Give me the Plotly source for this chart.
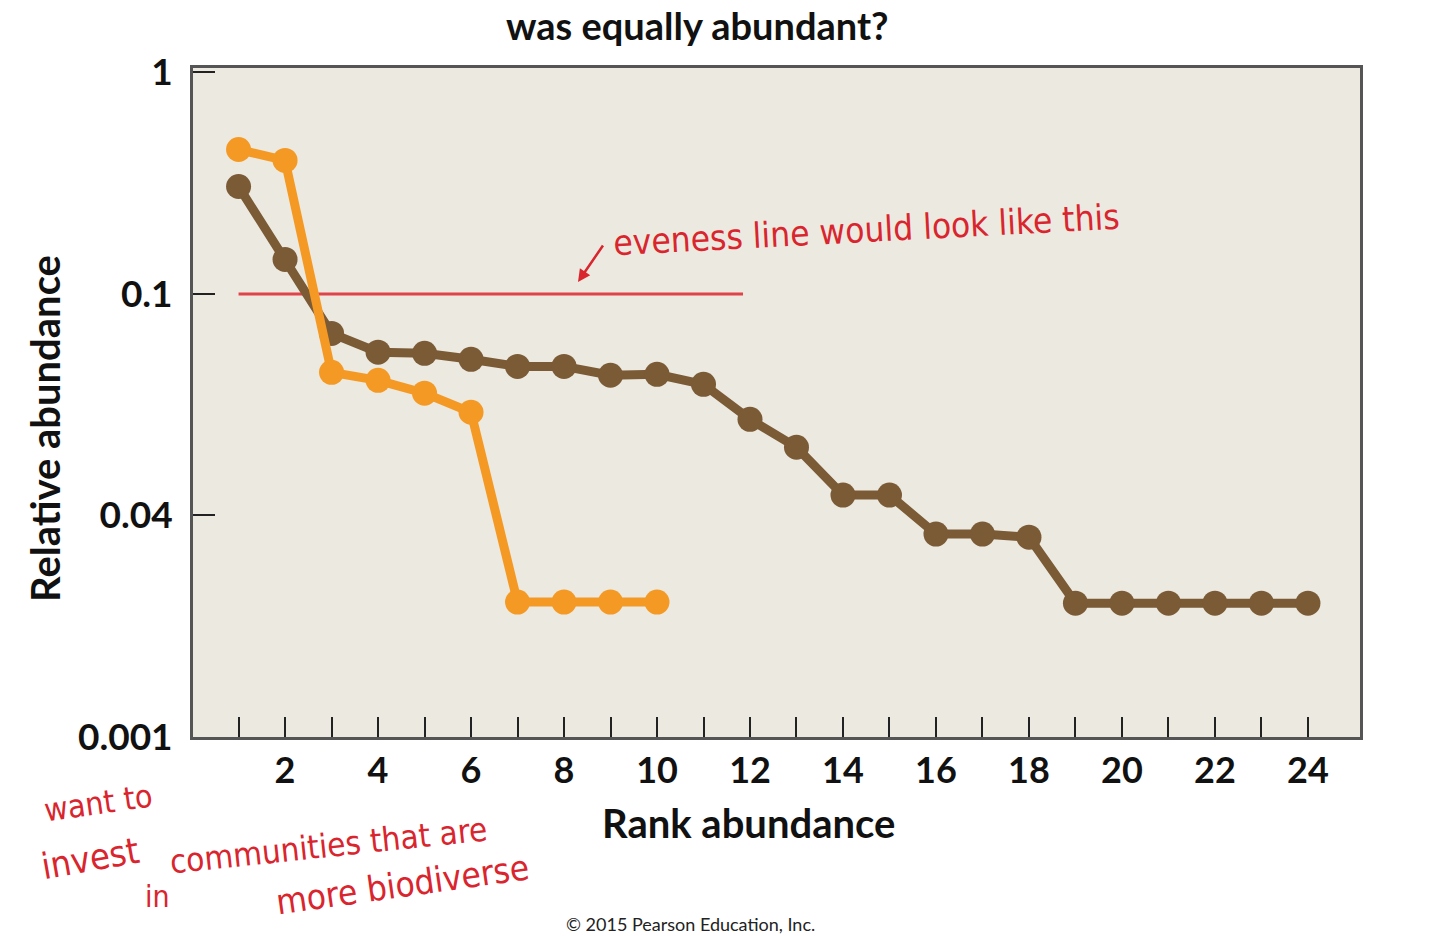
import plotly.graph_objects as go

# Data (y values expressed in axis-position units: 0 -> 0.001, 1 -> 0.04, 2 -> 0.1, 3 -> 1)
y_tick_vals = [0, 1, 2, 3]
y_tick_text = ["0.001", "0.04", "0.1", "1"]

rank_brown = list(range(1, 25))
abund_brown = [2.485, 2.156, 1.822, 1.737, 1.732, 1.705, 1.673, 1.673, 1.633, 1.637,
               1.592, 1.434, 1.308, 1.092, 1.092, 0.916, 0.916, 0.902, 0.604, 0.604,
               0.604, 0.604, 0.604, 0.604]

rank_orange = list(range(1, 11))
abund_orange = [2.652, 2.603, 1.646, 1.610, 1.552, 1.466, 0.609, 0.609, 0.609, 0.609]

even_x = [1, 11.85]
even_y = [2, 2]

x_tick_vals = list(range(1, 25))
x_tick_text = [str(v) if v % 2 == 0 else "" for v in x_tick_vals]

BROWN = "#7B5A36"
ORANGE = "#F49A24"
RED = "#D9252E"
FONT = "Lato, 'Open Sans', sans-serif"
HAND = "'Liberation Sans Narrow', 'DejaVu Sans Condensed', sans-serif"

W, H = 1432, 928
OFF = 8  # page body margin
L, T, R, B = 193 - OFF, 68 - OFF, W - (1360 - OFF), H - (737 - OFF)

fig = go.Figure()
fig.add_trace(go.Scatter(x=even_x, y=even_y, mode="lines",
                         line=dict(color="#E0434A", width=3), hoverinfo="skip"))
fig.add_trace(go.Scatter(x=rank_brown, y=abund_brown, mode="lines+markers",
                         line=dict(color=BROWN, width=9),
                         marker=dict(color=BROWN, size=25)))
fig.add_trace(go.Scatter(x=rank_orange, y=abund_orange, mode="lines+markers",
                         line=dict(color=ORANGE, width=9),
                         marker=dict(color=ORANGE, size=25)))

fig.update_layout(
    width=W, height=H,
    margin=dict(l=L, r=R, t=T, b=B),
    paper_bgcolor="white",
    plot_bgcolor="#ECE9E0",
    showlegend=False,
    font=dict(family=FONT, color="#111111"),
)
fig.update_xaxes(
    range=[0.02, 25.12], tickmode="array", tickvals=x_tick_vals, ticktext=x_tick_text,
    ticks="inside", ticklen=20, tickwidth=2, tickcolor="#222222",
    showgrid=False, zeroline=False, showline=True, linecolor="#555555", linewidth=3,
    mirror=True, tickfont=dict(size=36, family=FONT, weight="bold"),
    ticklabelstandoff=0, automargin=False,
)
fig.update_yaxes(
    range=[0, 3.02], tickmode="array", tickvals=y_tick_vals, ticktext=y_tick_text,
    ticks="inside", ticklen=22, tickwidth=2, tickcolor="#222222",
    showgrid=False, zeroline=False, showline=True, linecolor="#555555", linewidth=3,
    mirror=True, tickfont=dict(size=37, family=FONT, weight="bold"),
    ticklabelstandoff=10, automargin=False,
)

# positions given in screenshot pixels (converted below)
anns = [
    dict(text="was equally abundant?", x=697, y=25, size=38, color="#111111", bold=True, angle=0),
    dict(text="Rank abundance", x=748, y=823, size=40, color="#111111", bold=True, angle=0),
    dict(text="Relative abundance", x=45, y=428, size=40, color="#111111", bold=True, angle=-90),
    dict(text="© 2015 Pearson Education, Inc.", x=690, y=924, size=18, color="#222222", bold=False, angle=0),
    dict(text="eveness line would look like this", x=866, y=230, size=35, color=RED, bold=False, angle=-3),
    dict(text="want to", x=98, y=803, size=32, color=RED, bold=False, angle=-8),
    dict(text="invest", x=90, y=858, size=36, color=RED, bold=False, angle=-10),
    dict(text="in", x=157, y=896, size=30, color=RED, bold=False, angle=0),
    dict(text="communities that are", x=328, y=845, size=33, color=RED, bold=False, angle=-6),
    dict(text="more biodiverse", x=402, y=885, size=35, color=RED, bold=False, angle=-8),
]
pw = W - L - R
ph = H - T - B


def px2paper(px, py):
    return (px - OFF - L) / pw, 1 - (py - OFF - T) / ph


for a in anns:
    fam = FONT if a["color"] != RED else HAND
    xp, yp = px2paper(a["x"], a["y"])
    fig.add_annotation(
        text=a["text"], x=xp, y=yp, xref="paper", yref="paper",
        showarrow=False, textangle=a["angle"], xanchor="center", yanchor="middle",
        font=dict(size=a["size"], color=a["color"], family=fam,
                  weight="bold" if a["bold"] else "normal"),
    )

# arrow for the evenness note
hx, hy = px2paper(578, 282)
fig.add_annotation(x=hx, y=hy, ax=26, ay=-38, xref="paper", yref="paper",
                   axref="pixel", ayref="pixel", showarrow=True,
                   arrowcolor=RED, arrowwidth=2.5, arrowhead=2, text="")

fig.write_html("out.html")
